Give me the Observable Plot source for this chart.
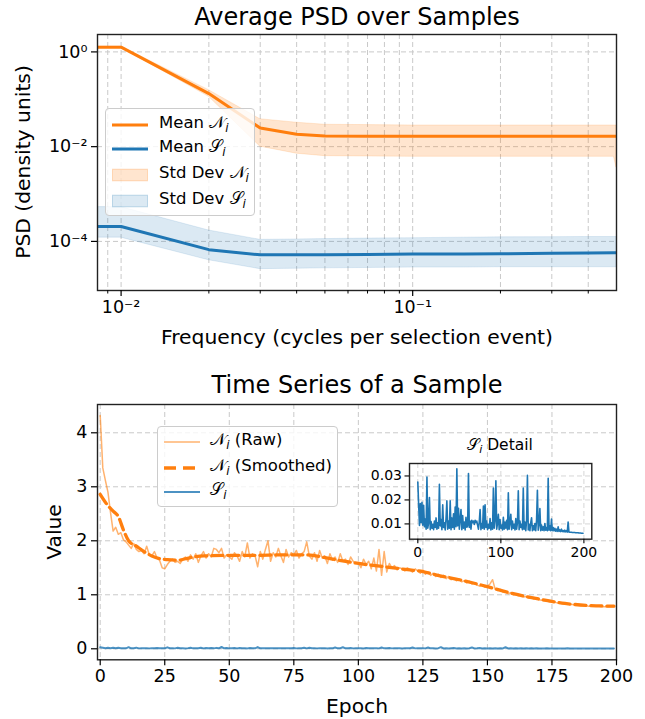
<!DOCTYPE html>
<html><head><meta charset="utf-8">
<script src="https://cdn.jsdelivr.net/npm/d3@7"></script>
<script src="https://cdn.jsdelivr.net/npm/@observablehq/plot@0.6"></script>
<style>
body{margin:0;background:#fff;font-family:"DejaVu Sans",sans-serif;}
#root{position:relative;width:645px;height:719px;overflow:hidden;background:#fff;}
#root svg{position:absolute;}
.t{position:absolute;white-space:nowrap;color:#000;transform:translate(-50%,-50%);line-height:1;}
.rot{transform:translate(-50%,-50%) rotate(-90deg);}
.legend{position:absolute;box-sizing:border-box;border:1px solid #cccccc;border-radius:4px;background:rgba(255,255,255,0.8);}
.lt{position:absolute;white-space:nowrap;line-height:1;transform:translateY(-50%);font-size:16.5px;color:#000;}
.ls{position:absolute;}
sub{font-size:0.72em;vertical-align:-0.28em;font-style:italic;}
</style></head>
<body>
<div id="root"></div>
<script>
const ORANGE = "#ff7f0e", BLUE = "#1f77b4", GRID = "#c9c9c9";

// ---- Top chart: average PSD (frequency in cycles per selection event) ----
// first entry stands for the DC bin, drawn off the left of the log axis
const psdFreq = [0.001, 0.01, 0.02, 0.03, 0.04, 0.05, 0.07, 0.1, 0.15, 0.2, 0.3, 0.4, 0.49, 0.5];
const nMean = [1.26, 1.26, 0.132, 0.0247, 0.0183, 0.0168, 0.0166, 0.0165, 0.0166, 0.0166, 0.0165, 0.0166, 0.0166, 0.0166];
const nLo   = [1.22, 1.22, 0.113, 0.0100, 0.0071, 0.0063, 0.0062, 0.0061, 0.0061, 0.0061, 0.0061, 0.0061, 0.0061, 0.0036];
const nHi   = [1.30, 1.30, 0.156, 0.038, 0.032, 0.029, 0.0285, 0.028, 0.028, 0.028, 0.028, 0.028, 0.028, 0.028];
const sMean = [2.07e-4, 2.07e-4, 6.7e-5, 5.2e-5, 5.2e-5, 5.25e-5, 5.3e-5, 5.4e-5, 5.45e-5, 5.5e-5, 5.6e-5, 5.7e-5, 5.75e-5, 5.75e-5];
const sLo   = [1.2e-4, 1.2e-4, 4.0e-5, 2.6e-5, 2.65e-5, 2.7e-5, 2.75e-5, 2.8e-5, 2.8e-5, 2.85e-5, 2.85e-5, 2.85e-5, 2.85e-5, 2.85e-5];
const sHi   = [5.3e-4, 5.3e-4, 1.7e-4, 1.08e-4, 1.1e-4, 1.12e-4, 1.15e-4, 1.17e-4, 1.2e-4, 1.22e-4, 1.23e-4, 1.24e-4, 1.24e-4, 1.24e-4];
const topXMajor = [0.01, 0.1];
const topXMinor = [0.009, 0.02, 0.03, 0.04, 0.05, 0.06, 0.07, 0.08, 0.09, 0.2, 0.3, 0.4];
const topYTicks = [1, 0.01, 0.0001];

// ---- Bottom chart: time series of a sample ----
const nRaw = [4.32,3.35,3.12,2.90,2.52,2.18,2.25,2.12,2.15,2.02,1.98,1.92,1.86,1.95,1.84,1.80,1.82,1.76,1.90,1.74,
1.72,1.80,1.68,1.64,1.50,1.48,1.56,1.62,1.66,1.60,1.62,1.58,1.66,1.70,1.62,1.74,1.66,1.76,1.60,1.72,
1.80,1.68,1.76,1.70,1.86,1.84,1.78,1.86,1.68,1.74,1.70,1.66,1.78,1.72,1.62,1.80,1.70,1.96,1.68,1.76,
1.72,1.52,1.80,1.66,1.84,2.00,1.62,1.78,1.70,1.86,1.72,1.60,1.84,1.70,1.78,1.74,1.82,1.68,1.76,1.80,
1.98,1.72,1.66,1.78,1.62,1.82,1.68,1.72,1.58,1.76,1.64,1.70,1.60,1.76,1.62,1.66,1.56,1.70,1.62,1.58,
1.60,1.50,1.66,1.56,1.62,1.48,1.68,1.44,1.84,1.36,1.80,1.42,1.58,1.50,1.54,1.46,1.50,1.48,1.44,1.50,
1.46,1.42,1.48,1.44,1.40,1.46,1.38,1.42,1.36,1.40,1.34,1.38,1.32,1.36,1.30,1.34,1.28,1.30,1.26,1.29,
1.24,1.26,1.22,1.25,1.20,1.22,1.18,1.16,1.18,1.14,1.16,1.20,1.28,1.10,1.08,1.10,1.05,1.06,1.02,1.04,
1.00,1.01,0.98,0.99,0.96,0.97,0.94,0.95,0.92,0.93,0.91,0.90,0.89,0.89,0.87,0.87,0.86,0.85,0.85,0.84,
0.83,0.83,0.82,0.82,0.81,0.81,0.80,0.80,0.80,0.79,0.79,0.79,0.79,0.79,0.78,0.78,0.78,0.78,0.78,0.78];
const smoothEpoch = [0, 3, 5, 7, 9, 11, 14, 17, 20, 23, 26, 30, 35, 40, 50, 60, 70, 80, 90, 100, 110, 120, 125, 130, 140, 150, 160, 170, 180, 190, 199];
const nSmooth = [2.86, 2.65, 2.55, 2.45, 2.20, 2.00, 1.90, 1.80, 1.72, 1.67, 1.65, 1.64, 1.69, 1.72, 1.73, 1.73, 1.74, 1.74, 1.66, 1.58, 1.52, 1.46, 1.43, 1.37, 1.27, 1.15, 1.02, 0.92, 0.84, 0.80, 0.79];
const sRaw = [0.0275,0.018,0.0094,0.0185,0.0105,0.019,0.0095,0.0178,0.0088,0.012,
0.0078,0.0296,0.0082,0.0105,0.021,0.0076,0.011,0.0082,0.0098,0.0076,
0.0112,0.0085,0.0125,0.0078,0.0105,0.0082,0.0265,0.0092,0.0118,0.0076,
0.018,0.0085,0.0105,0.0075,0.0122,0.0196,0.0078,0.0112,0.0082,0.0196,
0.0076,0.0125,0.0085,0.0142,0.0078,0.017,0.0088,0.033,0.0092,0.0165,
0.0078,0.0118,0.016,0.0076,0.0135,0.0082,0.0108,0.0075,0.0128,0.0086,
0.0092,0.031,0.0085,0.0112,0.0078,0.0115,0.0105,0.0112,0.0098,0.0115,
0.0106,0.0112,0.0095,0.0078,0.0108,0.016,0.0076,0.0102,0.0082,0.0175,
0.0078,0.018,0.0085,0.0112,0.0076,0.0098,0.0082,0.0122,0.0075,0.0105,
0.0078,0.025,0.0082,0.0115,0.028,0.0078,0.0102,0.014,0.0076,0.0118,
0.0082,0.0095,0.0075,0.0128,0.0078,0.0108,0.0082,0.0115,0.0076,0.023,
0.0078,0.0105,0.014,0.0076,0.0112,0.0082,0.0098,0.0075,0.0122,0.0078,
0.0105,0.0238,0.0076,0.0112,0.0085,0.0098,0.0076,0.025,0.0078,0.0108,
0.0072,0.0115,0.0303,0.0075,0.0098,0.0072,0.0105,0.0126,0.0072,0.0092,
0.0075,0.0102,0.0072,0.0115,0.024,0.0074,0.0098,0.0164,0.0072,0.0095,
0.0074,0.0088,0.0072,0.0102,0.0074,0.0085,0.0072,0.029,0.0074,0.0092,
0.0072,0.012,0.0072,0.0085,0.0071,0.0082,0.007,0.0078,0.0069,0.0088,
0.0069,0.0075,0.0068,0.0078,0.0068,0.0072,0.0067,0.0074,0.0067,0.0072,
0.0066,0.0108,0.0066,0.0065,0.0065,0.0065,0.0064,0.0064,0.0064,0.0064,
0.0063,0.0063,0.0063,0.0063,0.0062,0.0062,0.0062,0.0061,0.0061,0.0061];
const epochTicks = [0, 25, 50, 75, 100, 125, 150, 175, 200];
const valueTicks = [0, 1, 2, 3, 4];
const insetXTicks = [0, 100, 200];
const insetYTicks = [0.01, 0.02, 0.03];

const SUP = {"-":"⁻","0":"⁰","1":"¹","2":"²","3":"³","4":"⁴","5":"⁵"};
const supFmt = d => "10" + String(Math.round(Math.log10(d))).split("").map(c => SUP[c]).join("");
const gridStyle = {stroke: GRID, strokeWidth: 1, strokeDasharray: "5,3"};
const baseStyle = {fontFamily: "DejaVu Sans", fontSize: "17.5px", color: "#000", background: "transparent", overflow: "visible"};

const root = document.getElementById("root");

const topData = psdFreq.map((f, i) => ({f, nMean: nMean[i], nLo: nLo[i], nHi: nHi[i], sMean: sMean[i], sLo: sLo[i], sHi: sHi[i]}));
const topPlot = Plot.plot({
  width: 645, height: 360,
  marginLeft: 97, marginRight: 29, marginTop: 34, marginBottom: 70,
  x: {type: "log", domain: [0.0083, 0.5]},
  y: {type: "log", domain: [9.2e-6, 2.33]},
  style: baseStyle,
  marks: [
    Plot.ruleX(topXMajor.concat(topXMinor), gridStyle),
    Plot.ruleY(topYTicks, gridStyle),
    Plot.line(topData, {x: "f", y: "nMean", stroke: ORANGE, strokeWidth: 3, clip: true}),
    Plot.line(topData, {x: "f", y: "sMean", stroke: BLUE, strokeWidth: 3, clip: true}),
    Plot.areaY(topData, {x: "f", y1: "nLo", y2: "nHi", fill: ORANGE, fillOpacity: 0.2, stroke: ORANGE, strokeOpacity: 0.15, clip: true}),
    Plot.areaY(topData, {x: "f", y1: "sLo", y2: "sHi", fill: BLUE, fillOpacity: 0.16, stroke: BLUE, strokeOpacity: 0.12, clip: true}),
    Plot.frame({stroke: "#222", strokeWidth: 1.4}),
    Plot.axisX({ticks: topXMinor, tickSize: 3.5, tickFormat: () => "", label: null, strokeWidth: 1}),
    Plot.axisX({ticks: topXMajor, tickSize: 6, tickPadding: 4, tickFormat: supFmt, label: null, strokeWidth: 1.2}),
    Plot.axisY({ticks: topYTicks, tickSize: 6, tickPadding: 4, tickFormat: supFmt, label: null, strokeWidth: 1.2})
  ]
});
topPlot.style.left = "0px"; topPlot.style.top = "0px";
root.appendChild(topPlot);

const botPlot = Plot.plot({
  width: 645, height: 359,
  marginLeft: 97, marginRight: 29, marginTop: 44, marginBottom: 59.7,
  x: {domain: [-1.05, 200]},
  y: {domain: [-0.204, 4.524]},
  style: baseStyle,
  marks: [
    Plot.ruleX(epochTicks, gridStyle),
    Plot.ruleY(valueTicks, gridStyle),
    Plot.line(nRaw, {x: (d, i) => i, y: d => d, stroke: ORANGE, strokeOpacity: 0.6, strokeWidth: 1.5}),
    Plot.line(nSmooth, {x: (d, i) => smoothEpoch[i], y: d => d, stroke: ORANGE, strokeWidth: 3.3, strokeDasharray: "11,5", curve: "monotone-x"}),
    Plot.line(sRaw, {x: (d, i) => i, y: d => d, stroke: BLUE, strokeOpacity: 0.8, strokeWidth: 2}),
    Plot.frame({stroke: "#222", strokeWidth: 1.4}),
    Plot.axisX({ticks: epochTicks, tickSize: 6, tickPadding: 4, tickFormat: d => String(d), label: null, strokeWidth: 1.2}),
    Plot.axisY({ticks: valueTicks, tickSize: 6, tickPadding: 4, tickFormat: d => String(d), label: null, strokeWidth: 1.2})
  ]
});
botPlot.style.left = "0px"; botPlot.style.top = "360px";
root.appendChild(botPlot);

const insetPlot = Plot.plot({
  width: 242.3, height: 110.7,
  marginLeft: 50, marginRight: 10, marginTop: 10, marginBottom: 25,
  x: {domain: [-10, 209.5]},
  y: {domain: [0.00363, 0.0352]},
  style: {...baseStyle, fontSize: "14px"},
  marks: [
    Plot.ruleX(insetXTicks, {...gridStyle, stroke: "#d6d6d6"}),
    Plot.ruleY(insetYTicks, {...gridStyle, stroke: "#d6d6d6"}),
    Plot.line(sRaw, {x: (d, i) => i, y: d => d, stroke: BLUE, strokeWidth: 1.6}),
    Plot.frame({stroke: "#222", strokeWidth: 1.4}),
    Plot.axisX({ticks: insetXTicks, tickSize: 4.5, tickPadding: 3, tickFormat: d => String(d), label: null, strokeWidth: 1.1}),
    Plot.axisY({ticks: insetYTicks, tickSize: 4.5, tickPadding: 3, tickFormat: d => d.toFixed(2), label: null, strokeWidth: 1.1})
  ]
});
insetPlot.style.left = "358.7px"; insetPlot.style.top = "453.3px";
root.appendChild(insetPlot);

// ---- text ----
function txt(html, x, y, size, cls) {
  const d = document.createElement("div");
  d.className = "t" + (cls ? " " + cls : "");
  d.style.left = x + "px"; d.style.top = y + "px"; d.style.fontSize = size + "px";
  d.innerHTML = html;
  root.appendChild(d);
}
const N = '𝒩<sub>i</sub>', S = '𝒮<sub>i</sub>';
txt("Average PSD over Samples", 357, 17, 24);
txt("Frequency (cycles per selection event)", 357, 337, 20.3);
txt("PSD (density units)", 23, 162, 20.3, "rot");
txt("Time Series of a Sample", 357, 385, 24);
txt("Epoch", 357, 706, 20.3);
txt("Value", 54, 532, 20.3, "rot");
txt(S + " Detail", 500, 447, 15.5);

function legend(x, y, w, h, rows) {
  const box = document.createElement("div");
  box.className = "legend";
  Object.assign(box.style, {left: x + "px", top: y + "px", width: w + "px", height: h + "px"});
  for (const r of rows) {
    const s = document.createElementNS("http://www.w3.org/2000/svg", "svg");
    s.setAttribute("class", "ls");
    s.setAttribute("width", r.sw); s.setAttribute("height", 16);
    s.style.left = r.sx + "px"; s.style.top = (r.y - 8) + "px";
    s.innerHTML = r.sample;
    box.appendChild(s);
    const t = document.createElement("div");
    t.className = "lt"; t.style.left = r.tx + "px"; t.style.top = r.y + "px";
    t.innerHTML = r.label;
    box.appendChild(t);
  }
  root.appendChild(box);
}
const lineSample = (c, w, op, dash) => `<line x1="0" x2="36" y1="8" y2="8" stroke="${c}" stroke-width="${w}" stroke-opacity="${op}" ${dash ? `stroke-dasharray="${dash}"` : ""}/>`;
const patchSample = (c, op) => `<rect x="0.5" y="2.2" width="35" height="11.6" fill="${c}" fill-opacity="${op}" stroke="${c}" stroke-opacity="0.25"/>`;
legend(105, 108, 150, 108, [
  {y: 15.7, sx: 5.7, sw: 36, tx: 53, sample: lineSample(ORANGE, 3, 1), label: "Mean " + N},
  {y: 40.3, sx: 5.7, sw: 36, tx: 53, sample: lineSample(BLUE, 3, 1), label: "Mean " + S},
  {y: 66, sx: 5.7, sw: 36, tx: 53, sample: patchSample(ORANGE, 0.2), label: "Std Dev " + N},
  {y: 92, sx: 5.7, sw: 36, tx: 53, sample: patchSample(BLUE, 0.16), label: "Std Dev " + S}
]);
legend(157.3, 425.7, 180.4, 81, [
  {y: 15, sx: 5.4, sw: 36, tx: 52, sample: lineSample(ORANGE, 1.5, 0.6), label: N + " (Raw)"},
  {y: 41.6, sx: 5.4, sw: 36, tx: 52, sample: lineSample(ORANGE, 3.3, 1, "12,7"), label: N + " (Smoothed)"},
  {y: 65.3, sx: 5.4, sw: 36, tx: 52, sample: lineSample(BLUE, 2, 0.8), label: S}
]);
</script>
</body></html>
